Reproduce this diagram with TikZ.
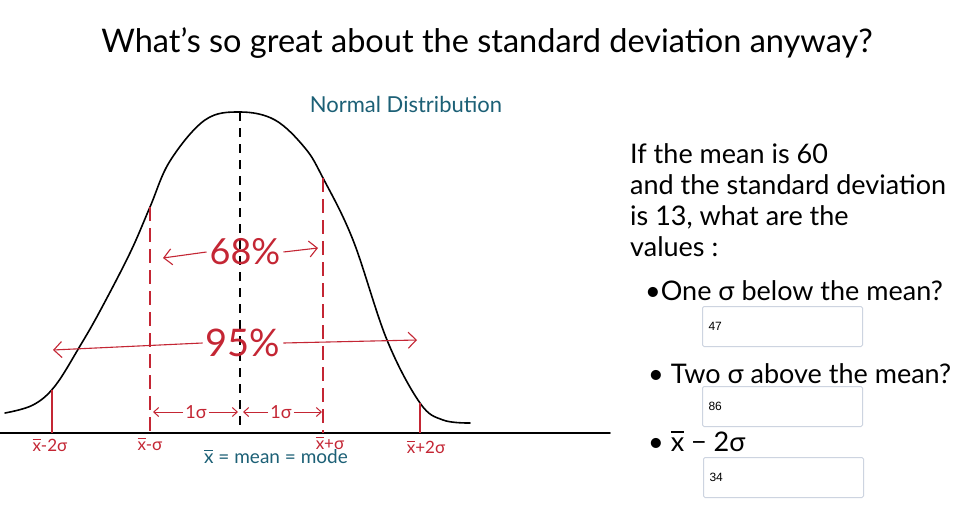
\documentclass[tikz,border=0pt]{standalone}
\usepackage{fontspec}
\setmainfont{Lato}
\newfontfamily\boxfont{Liberation Sans}
\usetikzlibrary{positioning, arrows.meta}

\definecolor{penred}{RGB}{196,38,52}
\definecolor{penteal}{RGB}{28,96,118}
\definecolor{boxgray}{RGB}{205,212,224}

% x with a bar over it
\newcommand{\xbar}{\leavevmode\rlap{\rule[0.68em]{0.48em}{0.06em}}x}

\begin{document}
\begin{tikzpicture}[x=1pt, y=-1pt,
    % Define the style for the hand written texts
    hand/.style={
        inner sep=0pt,
        font=\fontsize{27}{31}\selectfont
    },
    redtext/.style={
        inner sep=3pt,
        text=penred
    },
    % Define the style for the answer boxes
    ansbox/.style={
        rectangle,
        draw=boxgray,
        line width=1pt,
        rounded corners=1.5pt,
        text width=148pt,
        align=left,
        inner xsep=6pt,
        minimum height=40pt,
        anchor=north west,
        font=\boxfont\fontsize{12}{14}\selectfont
    },
    % Define the style for the lines
    curve/.style={
        draw,
        line width=1.6pt,
        line cap=round
    },
    meanline/.style={
        draw,
        line width=1.3pt,
        dash pattern=on 9pt off 7pt
    },
    sigmaline/.style={
        draw=penred,
        line width=1.1pt,
        dash pattern=on 14pt off 7pt
    },
    tailline/.style={
        draw=penred,
        line width=1.1pt
    },
    % Define the style for the arrows
    arrow/.style={
        draw=penred,
        line width=1.1pt,
        -{Straight Barb[length=8pt, width=16pt]}
    },
    smallarrow/.style={
        draw=penred,
        line width=1pt,
        -{Straight Barb[length=5pt, width=9pt]}
    }
]
    \useasboundingbox (0,0) rectangle (954,514);
    \fill[white] (0,0) rectangle (954,514);

    % Titles
    \node [hand, anchor=base, font=\fontsize{32.5}{36}\selectfont] (title) at (487,52)
        {What's so great about the standard deviation anyway?};
    \node [hand, anchor=base, text=penteal, font=\fontsize{22}{26}\selectfont] (normal) at (406,112)
        {Normal Distribution};

    % The axis and the curve
    \coordinate (axl) at (0,433);
    \coordinate (axr) at (610,433);
    \path [curve] (axl) -- (axr);
    \path [curve] plot[smooth, tension=0.6] coordinates {
        (5,413) (33,405) (55,386) (80,346) (100,311) (130,253) (150,207)
        (170,161) (205,120) (240,112) (275,120) (305,148) (323,178) (353,240)
        (387,340) (420,403) (443,420) (470,423)};

    % Mean and sigma lines
    \coordinate (mtop) at (240,112);
    \coordinate (mbot) at (240,430);
    \coordinate (lstop) at (150,207);
    \coordinate (lsbot) at (150,433);
    \coordinate (rstop) at (323,178);
    \coordinate (rsbot) at (323,433);
    \coordinate (lttop) at (52,390);
    \coordinate (ltbot) at (52,433);
    \coordinate (rttop) at (420,403);
    \coordinate (rtbot) at (420,433);
    \path [meanline] (mtop) -- (mbot);
    \path [sigmaline] (lstop) -- (lsbot);
    \path [sigmaline] (rstop) -- (rsbot);
    \path [tailline] (lttop) -- (ltbot);
    \path [tailline] (rttop) -- (rtbot);

    % Percent labels and their arrows
    \node [redtext, font=\fontsize{36}{40}\selectfont] (p68) at (245,252) {68\%};
    \coordinate (p68l) at (163,258);
    \coordinate (p68r) at (318,248);
    \path [arrow] (p68.west) -- (p68l);
    \path [arrow] (p68.east) -- (p68r);

    \node [redtext, font=\fontsize{38}{42}\selectfont] (p95) at (243,343) {95\%};
    \coordinate (p95l) at (53,350);
    \coordinate (p95r) at (417,340);
    \path [arrow] (p95.west) -- (p95l);
    \path [arrow] (p95.east) -- (p95r);

    % One sigma labels
    \node [redtext, inner sep=2pt, font=\fontsize{18}{20}\selectfont] (s1l) at (196,412) {1σ};
    \node [redtext, inner sep=2pt, font=\fontsize{18}{20}\selectfont] (s1r) at (281,412) {1σ};
    \coordinate (s1la) at (153,412);
    \coordinate (s1lb) at (238,412);
    \coordinate (s1ra) at (243,412);
    \coordinate (s1rb) at (322,412);
    \path [smallarrow] (s1l.west) -- (s1la);
    \path [smallarrow] (s1l.east) -- (s1lb);
    \path [smallarrow] (s1r.west) -- (s1ra);
    \path [smallarrow] (s1r.east) -- (s1rb);

    % Labels under the axis
    \node [redtext, inner sep=0pt, font=\fontsize{17}{19}\selectfont] (xm2) at (50,445) {\xbar-2σ};
    \node [redtext, inner sep=0pt, font=\fontsize{17}{19}\selectfont] (xm1) at (150,444) {\xbar-σ};
    \node [redtext, inner sep=0pt, font=\fontsize{17}{19}\selectfont] (xp1) at (330,443) {\xbar+σ};
    \node [redtext, inner sep=0pt, font=\fontsize{17}{19}\selectfont] (xp2) at (426,447) {\xbar+2σ};
    \node [hand, text=penteal, font=\fontsize{19}{21}\selectfont] (xmean) at (276,457)
        {\xbar{} = mean = mode};

    % The questions
    \node [hand, anchor=north west, align=left] (question) at (630,143)
        {If the mean is 60\\and the standard deviation\\is 13, what are the\\values :};
    \node [hand, anchor=base west] (q1) at (645,300) {•One σ below the mean?};
    \node [ansbox] (box1) at (702,306) {47};
    \node [hand, anchor=base west] (q2) at (648,383) {• Two σ above the mean?};
    \node [ansbox] (box2) at (702,386) {86};
    \node [hand, anchor=base west] (q3) at (648,451) {• \xbar{} − 2σ};
    \node [ansbox] (box3) at (703,457) {34};

\end{tikzpicture}
\end{document}
